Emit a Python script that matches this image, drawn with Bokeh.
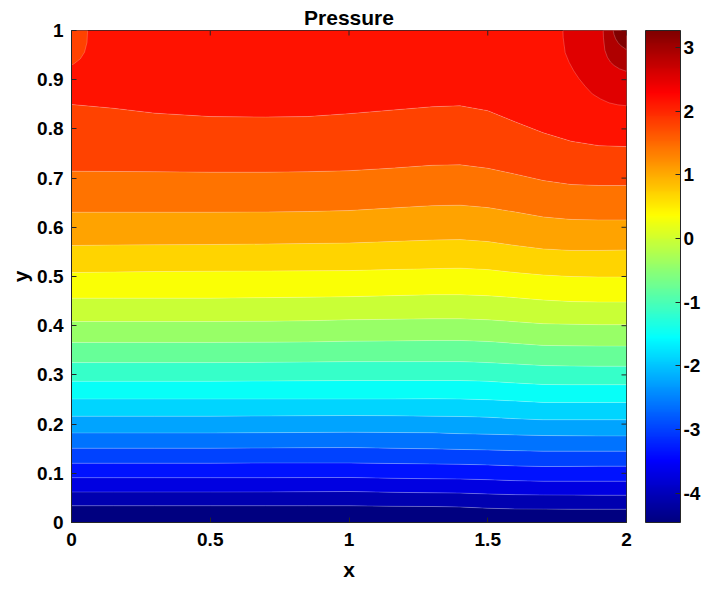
import math
from bokeh.plotting import figure
from bokeh.models import (ColorBar, LinearColorMapper, FixedTicker,
                          NumeralTickFormatter, Range1d)
from bokeh.embed import file_html
from bokeh.resources import INLINE

# ---------------- data ----------------
# x positions where the contour boundaries were sampled
xs = [0.0, 0.15, 0.3, 0.5, 0.7, 0.85, 1.0, 1.15, 1.3, 1.4, 1.5, 1.6, 1.7, 1.8, 1.9, 2.0]

# contour boundary heights (y) between successive pressure bands, bottom -> top
b01 = [0.034, 0.034, 0.034, 0.034, 0.034, 0.034, 0.034, 0.033, 0.0325, 0.0315, 0.029, 0.0275, 0.0272, 0.027, 0.027, 0.027]
b02 = [0.062, 0.062, 0.062, 0.062, 0.0622, 0.0625, 0.063, 0.0615, 0.0603, 0.0598, 0.058, 0.0565, 0.056, 0.0557, 0.0555, 0.0555]
b03 = [0.091, 0.091, 0.091, 0.091, 0.091, 0.0913, 0.0915, 0.090, 0.0888, 0.0885, 0.087, 0.085, 0.084, 0.084, 0.084, 0.084]
b04 = [0.1205, 0.1205, 0.1205, 0.1205, 0.121, 0.121, 0.121, 0.120, 0.119, 0.1183, 0.117, 0.115, 0.1138, 0.114, 0.1145, 0.1145]
b05 = [0.151, 0.151, 0.151, 0.151, 0.1515, 0.152, 0.1524, 0.151, 0.1497, 0.1485, 0.1475, 0.146, 0.145, 0.145, 0.145, 0.145]
b06 = [0.182, 0.182, 0.182, 0.182, 0.1825, 0.183, 0.1835, 0.183, 0.1823, 0.1805, 0.1795, 0.178, 0.1768, 0.1762, 0.176, 0.176]
b07 = [0.216, 0.216, 0.216, 0.216, 0.2165, 0.217, 0.2175, 0.217, 0.216, 0.2155, 0.214, 0.211, 0.2087, 0.2087, 0.2087, 0.2087]
b08 = [0.251, 0.251, 0.251, 0.251, 0.251, 0.251, 0.251, 0.251, 0.2514, 0.251, 0.2495, 0.247, 0.244, 0.244, 0.244, 0.244]
b09 = [0.287, 0.287, 0.287, 0.287, 0.2875, 0.288, 0.2886, 0.2886, 0.2886, 0.2886, 0.287, 0.2835, 0.2805, 0.280, 0.280, 0.280]
b10 = [0.325, 0.325, 0.325, 0.325, 0.3255, 0.326, 0.327, 0.327, 0.327, 0.327, 0.325, 0.322, 0.319, 0.318, 0.3177, 0.3177]
b11 = [0.366, 0.366, 0.366, 0.366, 0.3665, 0.367, 0.3685, 0.369, 0.370, 0.370, 0.368, 0.364, 0.360, 0.359, 0.3585, 0.3585]
b12 = [0.4085, 0.4085, 0.4085, 0.4085, 0.409, 0.410, 0.412, 0.413, 0.414, 0.414, 0.412, 0.408, 0.404, 0.403, 0.402, 0.402]
b13 = [0.456, 0.456, 0.456, 0.456, 0.457, 0.458, 0.459, 0.461, 0.463, 0.463, 0.461, 0.457, 0.452, 0.449, 0.448, 0.448]
b14 = [0.508, 0.509, 0.510, 0.5108, 0.511, 0.5115, 0.512, 0.514, 0.516, 0.517, 0.514, 0.508, 0.503, 0.500, 0.499, 0.499]
b15 = [0.563, 0.564, 0.5645, 0.565, 0.566, 0.567, 0.568, 0.571, 0.574, 0.575, 0.571, 0.563, 0.556, 0.553, 0.553, 0.554]
b16 = [0.6307, 0.6307, 0.6307, 0.6307, 0.631, 0.632, 0.634, 0.639, 0.644, 0.645, 0.640, 0.631, 0.621, 0.616, 0.615, 0.615]
b17 = [0.714, 0.7135, 0.713, 0.712, 0.712, 0.713, 0.715, 0.720, 0.726, 0.727, 0.720, 0.708, 0.695, 0.687, 0.685, 0.685]
b18 = [0.8496, 0.842, 0.832, 0.825, 0.824, 0.825, 0.831, 0.838, 0.845, 0.847, 0.837, 0.814, 0.792, 0.775, 0.766, 0.764]
boundaries = [b01, b02, b03, b04, b05, b06, b07, b08, b09, b10, b11, b12,
              b13, b14, b15, b16, b17, b18]

# closed contours in the corners (x, y), running from the top edge to the side edge
top_left_x = [0.058, 0.056, 0.047, 0.032, 0.008, 0.0]
top_left_y = [1.0, 0.976, 0.956, 0.9425, 0.932, 0.930]
arc_a_x = [1.771, 1.772, 1.779, 1.793, 1.810, 1.829, 1.852, 1.877, 1.906, 1.937, 1.968, 2.0]
arc_a_y = [1.0, 0.985, 0.955, 0.9356, 0.918, 0.902, 0.886, 0.871, 0.861, 0.853, 0.849, 0.847]
arc_b_x = [1.916, 1.917, 1.922, 1.931, 1.942, 1.955, 1.975, 2.0]
arc_b_y = [1.0, 0.985, 0.960, 0.9458, 0.936, 0.929, 0.922, 0.917]
arc_c_x = [1.952, 1.955, 1.961, 1.970, 1.979, 2.0]
arc_c_y = [1.0, 0.992, 0.983, 0.975, 0.9695, 0.961]

# contour level values (pressure) of each band, bottom -> top
levels = [-4.46, -4.09, -3.72, -3.36, -2.99, -2.62, -2.25, -1.88, -1.51, -1.15,
          -0.78, -0.41, -0.04, 0.33, 0.70, 1.07, 1.43, 1.80, 2.17, 2.54, 2.91, 3.27]
p_min, p_max = -4.46, 3.27

x_ticks = [0, 0.5, 1, 1.5, 2]
y_ticks = [0, 0.1, 0.2, 0.3, 0.4, 0.5, 0.6, 0.7, 0.8, 0.9, 1]
cb_ticks = [-4, -3, -2, -1, 0, 1, 2, 3]


# ---------------- colormap (MATLAB jet) ----------------
def jet(t):
    r = min(max(min(4 * t - 1.5, -4 * t + 4.5), 0), 1)
    g = min(max(min(4 * t - 0.5, -4 * t + 3.5), 0), 1)
    b = min(max(min(4 * t + 0.5, -4 * t + 2.5), 0), 1)
    return "#%02x%02x%02x" % (round(r * 255), round(g * 255), round(b * 255))


jet256 = [jet(i / 255) for i in range(256)]


def level_color(v):
    return jet((v - p_min) / (p_max - p_min))


FONT = "Liberation Sans"
AX = "#262626"
SEAM = dict(line_color="white", line_alpha=0.3, line_width=0.7)

p = figure(width=703, height=589, output_backend="svg", toolbar_location=None,
           x_range=Range1d(0, 2), y_range=Range1d(0, 1),
           min_border_left=71, min_border_right=76, min_border_top=30,
           min_border_bottom=67, title="Pressure")
p.title.align = "center"
p.title.text_font = FONT
p.title.text_font_size = "21px"
p.title.text_font_style = "bold"
p.title.text_color = "black"
p.title.standoff = 4
p.grid.visible = False
p.outline_line_color = AX
p.outline_line_width = 1
p.background_fill_color = "white"

# bands
lower = [[0.0] * len(xs)] + boundaries
upper = boundaries + [[1.0] * len(xs)]
for i in range(len(lower)):
    p.varea(x=xs, y1=lower[i], y2=upper[i], fill_color=level_color(levels[i]))
for b in boundaries:
    p.line(xs, b, **SEAM)

# corner closed contours
p.patch(top_left_x + [0.0], top_left_y + [1.0], fill_color=level_color(levels[17]), **SEAM)
p.patch(arc_a_x + [2.0], arc_a_y + [1.0], fill_color=level_color(levels[19]), **SEAM)
p.patch(arc_b_x + [2.0], arc_b_y + [1.0], fill_color=level_color(levels[20]), **SEAM)
p.patch(arc_c_x + [2.0], arc_c_y + [1.0], fill_color=level_color(levels[21]), **SEAM)

# inward tick marks on the top and right edges of the box
p.ray(x=x_ticks, y=[1] * len(x_ticks), length=5, length_units="screen",
      angle=-math.pi / 2, line_color=AX, line_width=1)
p.ray(x=[2] * len(y_ticks), y=y_ticks, length=5, length_units="screen",
      angle=math.pi, line_color=AX, line_width=1)


def style_axis(ax, ticks):
    ax.ticker = FixedTicker(ticks=ticks)
    ax.formatter = NumeralTickFormatter(format="0.[0]")
    ax.major_tick_in = 5
    ax.major_tick_out = 0
    ax.major_tick_line_color = AX
    ax.minor_tick_line_color = None
    ax.axis_line_color = AX
    ax.major_label_text_font = FONT
    ax.major_label_text_font_style = "bold"
    ax.major_label_text_color = "black"
    ax.major_label_text_font_size = "19px"
    ax.axis_label_text_font = FONT
    ax.axis_label_text_font_style = "bold"
    ax.axis_label_text_font_size = "21px"
    ax.axis_label_text_color = "black"


style_axis(p.xaxis[0], x_ticks)
style_axis(p.yaxis[0], y_ticks)
p.xaxis.axis_label = "x"
p.yaxis.axis_label = "y"
p.xaxis.major_label_standoff = 10
p.yaxis.major_label_standoff = 8
p.xaxis.axis_label_standoff = 9
p.yaxis.axis_label_standoff = 2

mapper = LinearColorMapper(palette=jet256, low=p_min, high=p_max)
cb = ColorBar(color_mapper=mapper, ticker=FixedTicker(ticks=cb_ticks),
              formatter=NumeralTickFormatter(format="0"),
              width=35, padding=0, margin=0, location=(19, 0),
              major_tick_in=5, major_tick_out=0, major_tick_line_color=AX,
              bar_line_color=AX, bar_line_width=1, border_line_color=None,
              background_fill_color=None,
              major_label_text_font=FONT, major_label_text_font_style="bold",
              major_label_text_font_size="19px", major_label_text_color="black",
              label_standoff=3)
p.add_layout(cb, "right")

open("out.html", "w").write(file_html(p, INLINE))
